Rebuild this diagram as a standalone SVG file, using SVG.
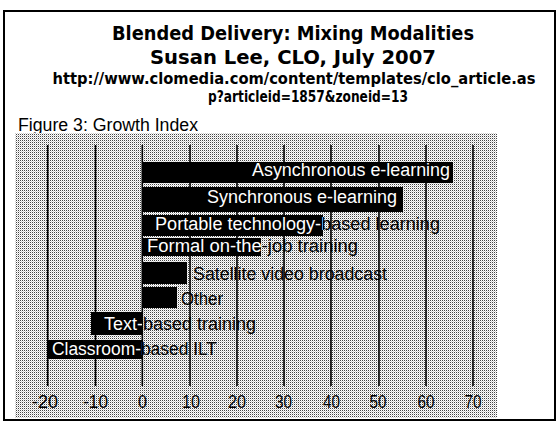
<svg xmlns="http://www.w3.org/2000/svg" width="557" height="423" viewBox="0 0 557 423">
<style>
.ttl{font-family:"DejaVu Sans","Liberation Sans",sans-serif;font-weight:bold;fill:#000;text-anchor:middle}
.fig{font-family:"Liberation Sans",Arial,sans-serif;font-size:18px;fill:#000}
.lbl{font-family:"Liberation Sans",Arial,sans-serif;font-size:18px}
.blk{fill:#000}
.wht{fill:#fff}
.bar{fill:#000}
.grid{stroke:#000;stroke-width:1.6}
.tick{font-family:"Liberation Sans",Arial,sans-serif;font-size:19px;fill:#000;text-anchor:middle}
</style>
<defs>
<pattern id="dots" width="2" height="2" patternUnits="userSpaceOnUse">
<rect width="2" height="2" fill="#fff"/>
<rect x="0" y="0" width="1" height="1" fill="#444"/>
<rect x="1" y="1" width="1" height="1" fill="#d0d0d0"/>
</pattern>
<clipPath id="c1"><rect x="142" y="162" width="311" height="21"/></clipPath>
<clipPath id="c2"><rect x="142" y="187" width="261" height="25"/></clipPath>
<clipPath id="c3"><rect x="142" y="215" width="181" height="21"/></clipPath>
<clipPath id="c4"><rect x="142" y="238" width="119" height="18"/></clipPath>
<clipPath id="c7"><rect x="91" y="312" width="51" height="23"/></clipPath>
<clipPath id="c8"><rect x="48" y="340" width="94" height="19"/></clipPath>
</defs>
<rect width="557" height="423" fill="#fff"/>
<rect x="4" y="11" width="551" height="409" fill="none" stroke="#000" stroke-width="2"/>

<g id="header">
<text class="ttl" x="293" y="40" font-size="20" textLength="362" lengthAdjust="spacingAndGlyphs">Blended Delivery: Mixing Modalities</text>
<text class="ttl" x="293" y="64" font-size="20" textLength="286" lengthAdjust="spacingAndGlyphs">Susan Lee, CLO, July 2007</text>
<text class="ttl" x="294" y="84" font-size="15" textLength="483" lengthAdjust="spacingAndGlyphs">http://www.clomedia.com/content/templates/clo_article.as</text>
<text class="ttl" x="308" y="102" font-size="15" textLength="200" lengthAdjust="spacingAndGlyphs">p?articleid=1857&amp;zoneid=13</text>
<text class="fig" x="18" y="131" textLength="180" lengthAdjust="spacingAndGlyphs">Figure 3: Growth Index</text>
</g>

<rect id="plot" x="15" y="133" width="482" height="285" fill="url(#dots)"/>

<g id="grid">
<line class="grid" x1="47.7" y1="145" x2="47.7" y2="386"/>
<line class="grid" x1="95.5" y1="145" x2="95.5" y2="386"/>
<line class="grid" x1="142.3" y1="145" x2="142.3" y2="386"/>
<line class="grid" x1="190" y1="145" x2="190" y2="386"/>
<line class="grid" x1="237" y1="145" x2="237" y2="386"/>
<line class="grid" x1="284" y1="145" x2="284" y2="386"/>
<line class="grid" x1="331" y1="145" x2="331" y2="386"/>
<line class="grid" x1="379" y1="145" x2="379" y2="386"/>
<line class="grid" x1="426" y1="145" x2="426" y2="386"/>
<line class="grid" x1="473" y1="145" x2="473" y2="386"/>
</g>

<g id="axis">
<text class="tick" x="45" y="408" textLength="26" lengthAdjust="spacingAndGlyphs">-20</text>
<text class="tick" x="95.5" y="408" textLength="25" lengthAdjust="spacingAndGlyphs">-10</text>
<text class="tick" x="142.5" y="408" textLength="9" lengthAdjust="spacingAndGlyphs">0</text>
<text class="tick" x="191" y="408" textLength="18" lengthAdjust="spacingAndGlyphs">10</text>
<text class="tick" x="237" y="408" textLength="18" lengthAdjust="spacingAndGlyphs">20</text>
<text class="tick" x="283.5" y="408" textLength="17" lengthAdjust="spacingAndGlyphs">30</text>
<text class="tick" x="331.5" y="408" textLength="17" lengthAdjust="spacingAndGlyphs">40</text>
<text class="tick" x="378" y="408" textLength="17" lengthAdjust="spacingAndGlyphs">50</text>
<text class="tick" x="426" y="408" textLength="17" lengthAdjust="spacingAndGlyphs">60</text>
<text class="tick" x="473" y="408" textLength="17" lengthAdjust="spacingAndGlyphs">70</text>
</g>

<g id="bar-async">
<text class="lbl blk" x="252" y="176" textLength="198" lengthAdjust="spacingAndGlyphs">Asynchronous e-learning</text>
<rect class="bar" x="142" y="162" width="311" height="21"/>
<text class="lbl wht" clip-path="url(#c1)" x="252" y="176" textLength="198" lengthAdjust="spacingAndGlyphs">Asynchronous e-learning</text>
</g>
<g id="bar-sync">
<text class="lbl blk" x="207" y="203" textLength="190" lengthAdjust="spacingAndGlyphs">Synchronous e-learning</text>
<rect class="bar" x="142" y="187" width="261" height="25"/>
<text class="lbl wht" clip-path="url(#c2)" x="207" y="203" textLength="190" lengthAdjust="spacingAndGlyphs">Synchronous e-learning</text>
</g>
<g id="bar-portable">
<text class="lbl blk" x="155" y="230" textLength="285" lengthAdjust="spacingAndGlyphs">Portable technology-based learning</text>
<rect class="bar" x="142" y="215" width="181" height="21"/>
<text class="lbl wht" clip-path="url(#c3)" x="155" y="230" textLength="285" lengthAdjust="spacingAndGlyphs">Portable technology-based learning</text>
</g>
<g id="bar-formal">
<text class="lbl blk" x="147" y="252" textLength="211" lengthAdjust="spacingAndGlyphs">Formal on-the-job training</text>
<rect class="bar" x="142" y="238" width="119" height="18"/>
<text class="lbl wht" clip-path="url(#c4)" x="147" y="252" textLength="211" lengthAdjust="spacingAndGlyphs">Formal on-the-job training</text>
</g>
<g id="bar-satellite">
<rect class="bar" x="142" y="262" width="45" height="22"/>
<text class="lbl blk" x="193" y="280" textLength="194" lengthAdjust="spacingAndGlyphs">Satellite video broadcast</text>
</g>
<g id="bar-other">
<rect class="bar" x="142" y="287" width="35" height="21"/>
<text class="lbl blk" x="181" y="305" textLength="42" lengthAdjust="spacingAndGlyphs">Other</text>
</g>
<g id="bar-text">
<text class="lbl blk" x="104" y="330" textLength="152" lengthAdjust="spacingAndGlyphs">Text-based training</text>
<rect class="bar" x="91" y="312" width="51" height="23"/>
<text class="lbl wht" clip-path="url(#c7)" x="104" y="330" textLength="152" lengthAdjust="spacingAndGlyphs">Text-based training</text>
</g>
<g id="bar-classroom">
<text class="lbl blk" x="52" y="355" textLength="165" lengthAdjust="spacingAndGlyphs">Classroom-based ILT</text>
<rect class="bar" x="48" y="340" width="94" height="19"/>
<text class="lbl wht" clip-path="url(#c8)" x="52" y="355" textLength="165" lengthAdjust="spacingAndGlyphs">Classroom-based ILT</text>
</g>
</svg>
